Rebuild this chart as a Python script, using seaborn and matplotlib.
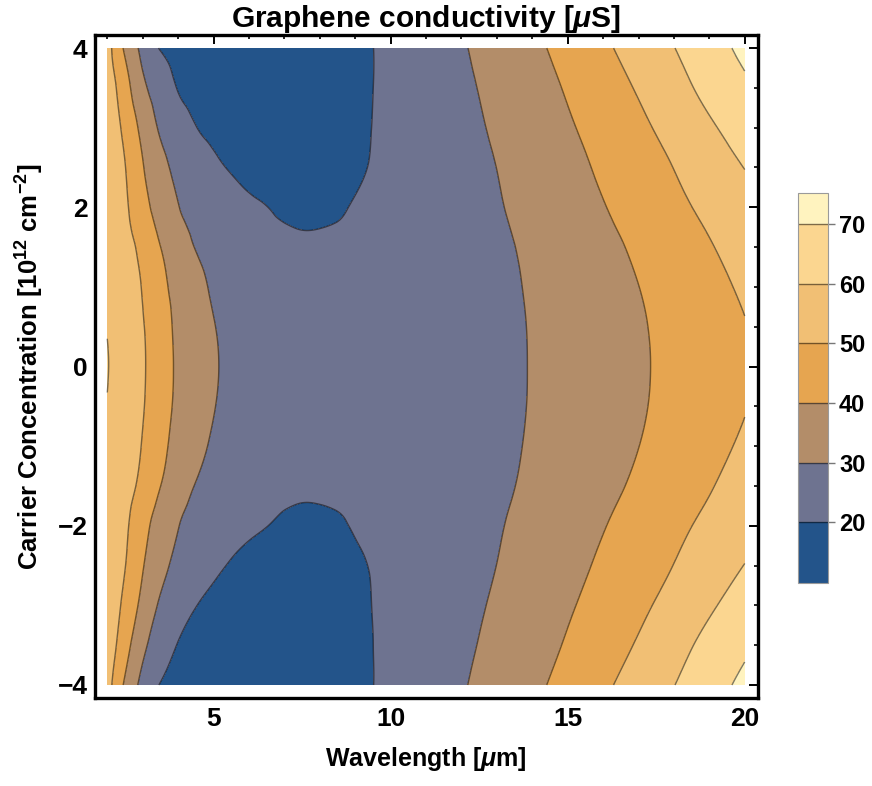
import numpy as np
import matplotlib
matplotlib.use("Agg")
import matplotlib.pyplot as plt
import matplotlib.tri as mtri
import seaborn as sns

# Sample grid: wavelength (µm) along columns, carrier concentration (1e12 cm^-2) along rows
wavelength_um = [2, 2.5, 3, 3.5, 4, 4.5, 5, 5.5, 6, 6.5, 7, 7.5, 8, 8.5, 9, 9.5,
                 10, 11, 12, 13, 14, 15, 16, 17, 18, 19, 20]
carrier_conc = [-4, -3.5, -3, -2.5, -2, -1.75, -1.5, -1, -0.5, 0,
                0.5, 1, 1.5, 1.75, 2, 2.5, 3, 3.5, 4]

# Conductivity in µS, one row per carrier concentration (same order as carrier_conc)
conductivity_uS = [
    [54.0, 38.5, 27.4, 19.5, 16.8, 14.4, 12.6, 11.3, 10.5, 10.2, 10.5, 11.3, 12.6, 14.5, 17.0, 19.9, 22.0, 25.8, 29.3, 33.54, 38.06, 42.97, 48.35, 53.98, 59.81, 65.94, 72.32],
    [55.7, 44.0, 32.2, 25.1, 19.6, 17.1, 15.1, 13.6, 12.6, 12.1, 12.05, 12.5, 13.6, 15.2, 17.3, 19.95, 21.8, 25.1, 28.45, 32.18, 36.36, 40.79, 45.63, 50.84, 56.6, 62.7, 68.4],
    [56.7, 47.6, 37.2, 28.8, 23.8, 20.2, 17.9, 16.1, 14.8, 14.05, 13.8, 14.05, 14.8, 16.1, 17.9, 20.15, 21.6, 24.6, 27.7, 31.09, 34.92, 39.02, 43.32, 48.05, 53.17, 58.7, 64.53],
    [57.5, 50.3, 40.6, 33.0, 27.5, 24.3, 21.6, 19.4, 17.8, 16.7, 16.1, 16.2, 16.9, 17.9, 19.1, 20.4, 21.7, 24.3, 27.1, 30.05, 33.56, 37.32, 41.41, 45.67, 50.14, 55.05, 60.21],
    [58.2, 51.7, 43.1, 36.2, 30.3, 27.0, 24.5, 22.6, 21.1, 20.1, 18.9, 18.5, 18.84, 19.5, 20.3, 21.1, 22.0, 24.15, 26.6, 29.36, 32.5, 35.85, 39.61, 43.59, 47.77, 52.15, 56.73],
    [58.5, 52.4, 45.1, 38.0, 32.2, 28.2, 25.6, 23.7, 22.2, 21.1, 20.3, 19.8, 19.91, 20.24, 20.73, 21.5, 22.25, 24.15, 26.4, 28.93, 31.96, 35.1, 38.69, 42.41, 46.43, 50.69, 55.2],
    [58.7, 53.4, 47.4, 40.1, 34.5, 29.6, 26.9, 24.9, 23.3, 22.2, 21.4, 21.0, 21.05, 21.25, 21.57, 22.0, 22.6, 24.2, 26.25, 28.56, 31.42, 34.52, 37.84, 41.38, 45.28, 49.39, 53.72],
    [59.2, 54.4, 49.5, 42.7, 37.0, 32.5, 29.0, 26.9, 25.2, 24.0, 23.0, 22.5, 22.3, 22.36, 22.54, 22.8, 23.2, 24.45, 26.08, 28.18, 30.76, 33.62, 36.68, 39.93, 43.43, 47.28, 51.37],
    [59.7, 55.1, 50.5, 44.4, 38.0, 33.5, 30.3, 28.0, 26.3, 25.0, 24.1, 23.5, 23.2, 23.23, 23.33, 23.5, 23.8, 24.75, 26.02, 28.01, 30.42, 33.17, 36.06, 39.15, 42.38, 45.85, 49.6],
    [60.4, 55.6, 50.9, 44.8, 38.5, 34.0, 30.8, 28.4, 26.7, 25.4, 24.5, 23.9, 23.6, 23.62, 23.7, 23.85, 24.1, 24.9, 26.0, 27.98, 30.34, 33.04, 35.89, 38.92, 42.12, 45.43, 48.9],
    [59.7, 55.1, 50.5, 44.4, 38.0, 33.5, 30.3, 28.0, 26.3, 25.0, 24.1, 23.5, 23.2, 23.23, 23.33, 23.5, 23.8, 24.75, 26.02, 28.01, 30.42, 33.17, 36.06, 39.15, 42.38, 45.85, 49.6],
    [59.2, 54.4, 49.5, 42.7, 37.0, 32.5, 29.0, 26.9, 25.2, 24.0, 23.0, 22.5, 22.3, 22.36, 22.54, 22.8, 23.2, 24.45, 26.08, 28.18, 30.76, 33.62, 36.68, 39.93, 43.43, 47.28, 51.37],
    [58.7, 53.4, 47.4, 40.1, 34.5, 29.6, 26.9, 24.9, 23.3, 22.2, 21.4, 21.0, 21.05, 21.25, 21.57, 22.0, 22.6, 24.2, 26.25, 28.56, 31.42, 34.52, 37.84, 41.38, 45.28, 49.39, 53.72],
    [58.5, 52.4, 45.1, 38.0, 32.2, 28.2, 25.6, 23.7, 22.2, 21.1, 20.3, 19.8, 19.91, 20.24, 20.73, 21.5, 22.25, 24.15, 26.4, 28.93, 31.96, 35.1, 38.69, 42.41, 46.43, 50.69, 55.2],
    [58.2, 51.7, 43.1, 36.2, 30.3, 27.0, 24.5, 22.6, 21.1, 20.1, 18.9, 18.5, 18.84, 19.5, 20.3, 21.1, 22.0, 24.15, 26.6, 29.36, 32.5, 35.85, 39.61, 43.59, 47.77, 52.15, 56.73],
    [57.5, 50.3, 40.6, 33.0, 27.5, 24.3, 21.6, 19.4, 17.8, 16.7, 16.1, 16.2, 16.9, 17.9, 19.1, 20.4, 21.7, 24.3, 27.1, 30.05, 33.56, 37.32, 41.41, 45.67, 50.14, 55.05, 60.21],
    [56.7, 47.6, 37.2, 28.8, 23.8, 20.2, 17.9, 16.1, 14.8, 14.05, 13.8, 14.05, 14.8, 16.1, 17.9, 20.15, 21.6, 24.6, 27.7, 31.09, 34.92, 39.02, 43.32, 48.05, 53.17, 58.7, 64.53],
    [55.7, 44.0, 32.2, 25.1, 19.6, 17.1, 15.1, 13.6, 12.6, 12.1, 12.05, 12.5, 13.6, 15.2, 17.3, 19.95, 21.8, 25.1, 28.45, 32.18, 36.36, 40.79, 45.63, 50.84, 56.6, 62.7, 68.4],
    [54.0, 38.5, 27.4, 19.5, 16.8, 14.4, 12.6, 11.3, 10.5, 10.2, 10.5, 11.3, 12.6, 14.5, 17.0, 19.9, 22.0, 25.8, 29.3, 33.54, 38.06, 42.97, 48.35, 53.98, 59.81, 65.94, 72.32],
]

# Filled band boundaries and the labelled contour levels
band_edges = [9.8, 20, 30, 40, 50, 60, 70, 75.2]
line_levels = [20, 30, 40, 50, 60, 70]
band_colors = ["#23548A", "#6E7390", "#B38D69", "#E6A550",
               "#F1BF74", "#FBD690", "#FFF3BF"]

x_major = [5, 10, 15, 20]
x_minor = list(range(2, 21))
y_major = [-4, -2, 0, 2, 4]
y_minor = list(np.arange(-4, 4.01, 0.5))

sns.set_theme(style="white")
plt.rcParams["font.family"] = ["Liberation Sans", "DejaVu Sans"]
plt.rcParams["font.weight"] = "bold"
plt.rcParams["text.color"] = "black"
plt.rcParams["axes.labelcolor"] = "black"
plt.rcParams["xtick.color"] = "black"
plt.rcParams["ytick.color"] = "black"
plt.rcParams["mathtext.fontset"] = "custom"
plt.rcParams["mathtext.rm"] = "Liberation Sans:bold"
plt.rcParams["mathtext.bf"] = "Liberation Sans:bold"
plt.rcParams["mathtext.sf"] = "Liberation Sans:bold"
plt.rcParams["mathtext.it"] = "Liberation Sans:italic:bold"
plt.rcParams["axes.unicode_minus"] = True

palette = sns.color_palette(band_colors)

fig = plt.figure(figsize=(8.72, 7.86), dpi=100)
ax = fig.add_axes([0.1084, 0.1123, 0.7603, 0.8428])

lam = np.array(wavelength_um, dtype=float)
conc = np.array(carrier_conc, dtype=float)
X, Y = np.meshgrid(lam, conc)
Z = np.array(conductivity_uS, dtype=float)

# Regular triangulation of the sample grid, refined by matplotlib for smooth contours
nx, ny = len(lam), len(conc)
triangles = []
for j in range(ny - 1):
    for i in range(nx - 1):
        k = j * nx + i
        triangles.append([k, k + 1, k + nx + 1])
        triangles.append([k, k + nx + 1, k + nx])
tri = mtri.Triangulation(X.ravel(), Y.ravel(), triangles)
interp = mtri.CubicTriInterpolator(tri, Z.ravel(), kind="min_E")
tri_fine, z_fine = mtri.UniformTriRefiner(tri).refine_field(
    Z.ravel(), triinterpolator=interp, subdiv=3)

cf = ax.tricontourf(tri_fine, z_fine, levels=band_edges, colors=palette)
ax.tricontour(tri_fine, z_fine, levels=line_levels, colors="black",
              alpha=0.5, linewidths=1.0)

ax.set_xlim(1.64, 20.36)
ax.set_ylim(-4.16, 4.16)
ax.set_facecolor("white")

ax.set_xticks(x_major)
ax.set_xticks(x_minor, minor=True)
ax.set_yticks(y_major)
ax.set_yticks(y_minor, minor=True)
ax.tick_params(which="both", direction="in", top=True, right=True,
               color="black", labelcolor="black", labelsize=19)
ax.tick_params(which="major", length=6.5, width=1.4)
ax.tick_params(which="minor", length=3.2, width=1.2)
ax.tick_params(axis="x", which="major", pad=7)
ax.tick_params(axis="y", which="major", pad=5)
for lab in ax.get_xticklabels() + ax.get_yticklabels():
    lab.set_fontweight("bold")
for sp in ax.spines.values():
    sp.set_linewidth(2.4)
    sp.set_color("black")

ax.set_title(r"Graphene conductivity [$\mu$S]", fontsize=21.5, fontweight="bold",
             pad=6, color="black")
ax.set_xlabel(r"Wavelength [$\mu$m]", fontsize=18, fontweight="bold", labelpad=10)
ax.set_ylabel(r"Carrier Concentration [10$^{12}$ cm$^{-2}$]", fontsize=18.5,
              fontweight="bold", labelpad=8)

# Colorbar with proportional bands
cax = fig.add_axes([0.9151, 0.2583, 0.0344, 0.4962])
cb = fig.colorbar(cf, cax=cax, spacing="proportional", ticks=line_levels)
cb.outline.set_edgecolor("#9a9a9a")
cb.outline.set_linewidth(0.8)
for lev in line_levels:
    cax.axhline(lev, color="black", alpha=0.5, lw=1.0)
cax.tick_params(direction="out", length=5, width=1.0, color="#777777",
                labelcolor="black", labelsize=17, pad=3)
for lab in cax.get_yticklabels():
    lab.set_fontweight("bold")

fig.savefig("out.png", dpi=100, facecolor="white")
